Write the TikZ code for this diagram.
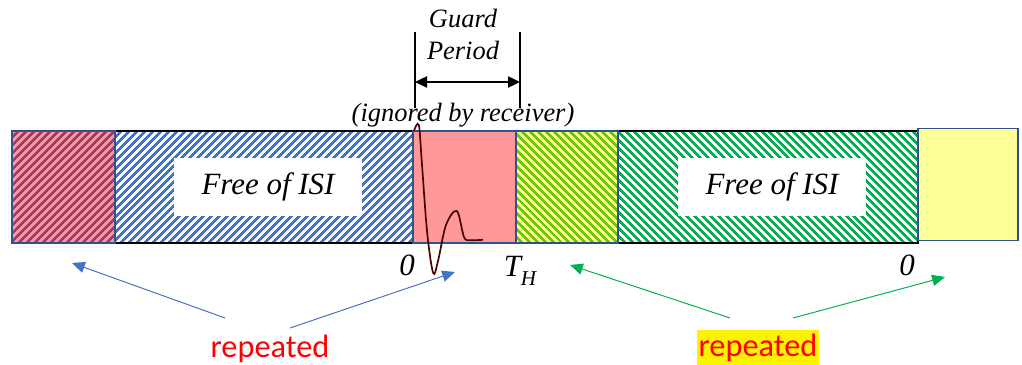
\documentclass[tikz,border=0pt]{standalone}
\usepackage{fontspec}
\setmainfont{Liberation Serif}
\newfontfamily\timesit{Liberation Serif Italic}
\newfontfamily\calib{Carlito}
\usetikzlibrary{arrows.meta,positioning,patterns.meta}
\definecolor{frame}{HTML}{2F528F}
\definecolor{stripeblue}{HTML}{4472C4}
\definecolor{stripegreen}{HTML}{00B050}
\definecolor{lime}{HTML}{66CC00}
\definecolor{pinkbg}{HTML}{FF9999}
\definecolor{pinkdark}{HTML}{9C3F6A}
\definecolor{paleyellow}{HTML}{FFFF99}
\definecolor{pulse}{HTML}{4A0000}
\tikzset{
  seg/.style={minimum height=2.8cm,inner sep=0pt,outer sep=0pt,line width=1.2pt},
  cpbox/.style={seg,draw=frame,minimum width=#1},
  isibox/.style={seg,draw=black,minimum width=7.45cm},
  stripes/.style={pattern={Lines[angle=#1,distance=4pt,line width=1.9pt]}},
  isilbl/.style={fill=white,minimum width=4.7cm,minimum height=1.45cm,font=\timesit\fontsize{22}{26}\selectfont},
  glbl/.style={font=\timesit\fontsize{18.8}{22}\selectfont,inner sep=0pt},
  tlbl/.style={font=\timesit\fontsize{22}{26}\selectfont,inner sep=0pt},
  rep/.style={font=\calib\fontsize{23}{27}\selectfont,text=red,inner xsep=1pt,inner ysep=3pt},
  bluearrow/.style={-{Triangle[length=3.2mm,width=2.8mm]},line width=0.7pt,color=stripeblue},
  greenarrow/.style={-{Triangle[length=3.2mm,width=2.8mm]},line width=0.7pt,color=stripegreen},
}
\begin{document}
\begin{tikzpicture}
  \useasboundingbox (0,0) rectangle (25.55,9.125);
  % the two symbol bodies
  \node[isibox,stripes=45,pattern color=stripeblue] (isiA) at (6.6,4.45) {};
  \node[isibox,minimum width=7.5cm,stripes=-45,pattern color=stripegreen] (isiB) at (19.2,4.45) {};
  % prefixes and copies
  \node[cpbox=2.575cm,preaction={fill=pinkbg},stripes=45,pattern color=pinkdark,left=0pt of isiA] (cpA) {};
  \node[cpbox=2.575cm,fill=pinkbg,right=0pt of isiA] (guard) {};
  \node[cpbox=2.55cm,preaction={fill=paleyellow},stripes=-45,pattern color=lime,right=0pt of guard] (cpB) {};
  \node[cpbox=2.5cm,fill=paleyellow,right=0pt of isiB,yshift=0.06cm] (tail) {};
  \node[isilbl] (freeA) at ([xshift=0.1cm]isiA.center) {Free of ISI};
  \node[isilbl] (freeB) at ([xshift=0.1cm]isiB.center) {Free of ISI};
  % channel response
  \draw[pulse,line width=1.2pt] plot[smooth,tension=0.55] coordinates {(10.35,5.85) (10.47,6.0) (10.55,5.0) (10.68,3.3) (10.83,2.3) (10.95,2.6) (11.15,3.5) (11.42,3.85) (11.6,3.2) (11.75,3.12) (12.07,3.13)};
  % guard period
  \coordinate (gl) at (10.375,8.325);
  \coordinate (gr) at (13.0,8.325);
  \draw[line width=0.8pt] (gl) -- ++(0,-1.9);
  \draw[line width=0.8pt] (gr) -- ++(0,-1.9);
  \draw[{Triangle[length=3mm,width=2.8mm]}-{Triangle[length=3mm,width=2.8mm]},line width=1.2pt] ([yshift=-1.25cm]gl) -- ([yshift=-1.25cm]gr);
  \node[glbl] (gtxt) at (11.575,8.675) {Guard};
  \node[glbl] (ptxt) at (11.575,7.875) {Period};
  \node[glbl] (itxt) at (11.575,6.25) {(ignored by receiver)};
  % time marks
  \node[tlbl] (zA) at (10.175,2.5) {0};
  \node[tlbl] (th) at (13.0,2.35) {T\raisebox{-0.3em}{\fontsize{15}{15}\selectfont H}};
  \node[tlbl] (zB) at (22.675,2.5) {0};
  % repeated parts
  \node[rep] (repA) at (6.75,0.4) {repeated};
  \node[rep,fill=yellow] (repB) at (18.95,0.42) {repeated};
  \coordinate (aA1) at (1.8,2.55);
  \coordinate (aA2) at (11.375,2.325);
  \coordinate (aB1) at (14.25,2.5);
  \coordinate (aB2) at (23.625,2.2);
  \draw[bluearrow] (5.625,1.175) -- (aA1);
  \draw[bluearrow] (7.25,0.925) -- (aA2);
  \draw[greenarrow] (18.25,1.175) -- (aB1);
  \draw[greenarrow] (19.825,1.175) -- (aB2);
\end{tikzpicture}
\end{document}
